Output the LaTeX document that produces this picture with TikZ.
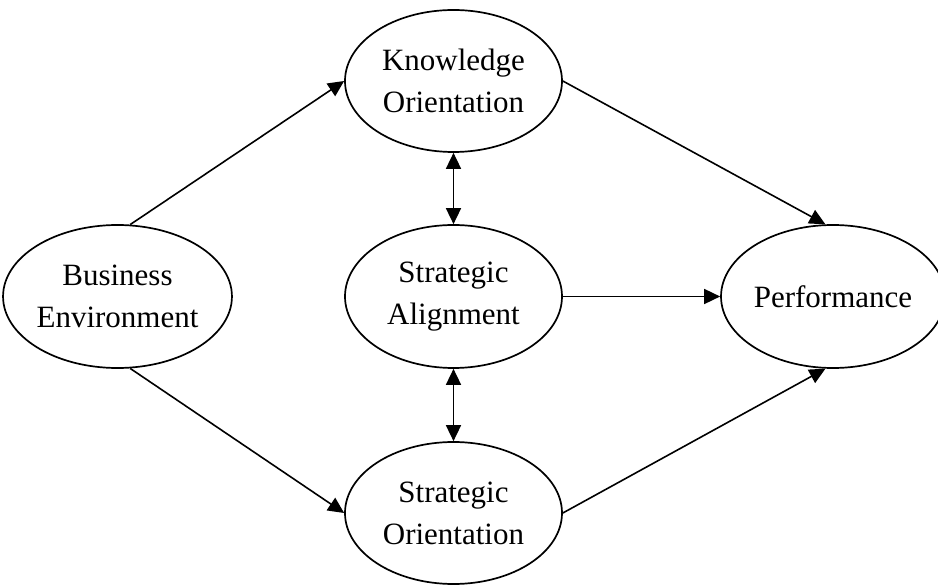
\documentclass[tikz,border=0pt]{standalone}
\usepackage{fontspec}
\setmainfont{Liberation Serif}
\usetikzlibrary{shapes.geometric,arrows.meta}
\tikzset{
  oval/.style={ellipse, draw, line width=1.7pt, inner sep=0pt, align=center,
    font=\fontsize{31}{42}\selectfont},
  conn/.style={line width=1.6pt, -{Triangle[length=16pt,width=15pt]}},
  bconn/.style={line width=1.6pt, {Triangle[length=16pt,width=15pt]}-{Triangle[length=16pt,width=15pt]}}
}
\begin{document}
\begin{tikzpicture}[x=1pt,y=-1pt]
\useasboundingbox (0,0) rectangle (938,585);
\node[oval, minimum width=219pt, minimum height=143pt] (BE) at (117.5,296.5) {Business\\Environment};
\node[oval, minimum width=217pt, minimum height=142pt] (KO) at (453.5,81) {Knowledge\\Orientation};
\node[oval, minimum width=217pt, minimum height=143pt] (SA) at (453.5,296.5) {Strategic\\Alignment};
\node[oval, minimum width=217pt, minimum height=142pt] (SO) at (453.5,513) {Strategic\\Orientation};
\node[oval, minimum width=208pt, minimum height=143pt] (PF) at (833,296.5) {Performance};
\draw[conn] (BE.80) -- (KO.west);
\draw[conn] (BE.-80) -- (SO.west);
\draw[conn] (KO.east) -- (PF.96);
\draw[conn] (SO.east) -- (PF.-96);
\draw[conn] (SA.east) -- (PF.west);
\draw[bconn] (KO.south) -- (SA.north);
\draw[bconn] (SA.south) -- (SO.north);
\end{tikzpicture}
\end{document}
